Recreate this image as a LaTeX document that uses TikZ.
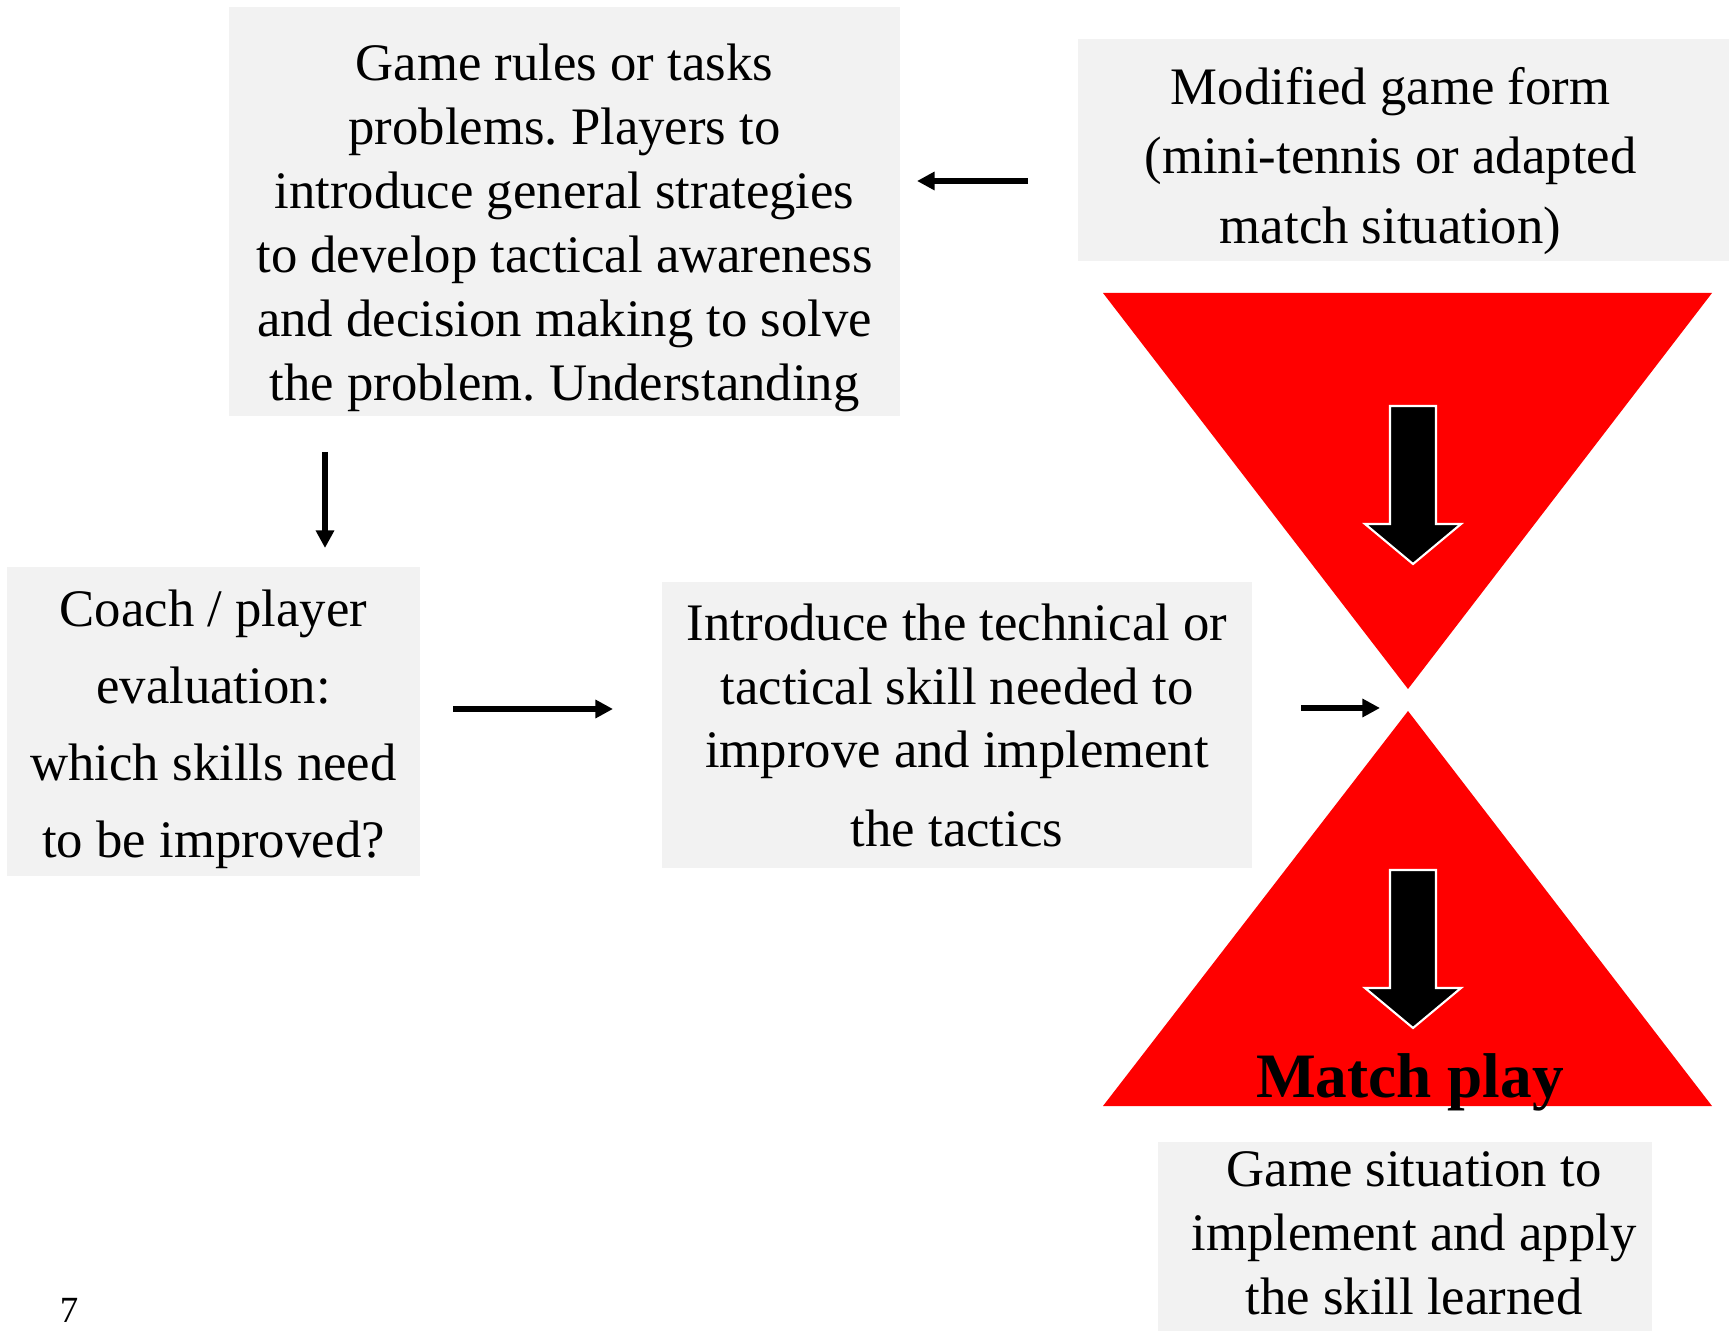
\documentclass[tikz,border=0pt]{standalone}
\usepackage{fontspec}
\setmainfont{Liberation Serif}
\usetikzlibrary{arrows.meta}
\definecolor{boxgray}{HTML}{F2F2F2}
\definecolor{trired}{HTML}{FF0000}
\frenchspacing

\begin{document}
\begin{tikzpicture}[
  box/.style={fill=boxgray, inner sep=0pt},
  boxtext/.style={align=center, inner sep=0pt, font=\fontsize{15}{18.2}\selectfont},
  link/.style={line width=1.7pt, -{Triangle[length=5pt,width=5pt]}},
  blockarrow/.style={fill=black, draw=white, line width=0.6pt}
]
\useasboundingbox (0,0) rectangle (17.29,13.33);

% boxes
\node[box, minimum width=6.71cm, minimum height=4.09cm] (rules) at (5.645,11.215) {};
\node[boxtext] (rulestext) at ([yshift=-1.6mm]rules)
  {Game rules or tasks\\problems. Players to\\introduce general strategies\\to develop tactical awareness\\and decision making to solve\\the problem. Understanding};
\node[box, minimum width=6.51cm, minimum height=2.22cm] (modified) at (14.035,11.83) {};
\node[boxtext, font=\fontsize{15}{19.9}\selectfont] (modifiedtext) at ([xshift=-1.3mm,yshift=-1.1mm]modified)
  {Modified game form\\(mini-tennis or adapted\\match situation)};
\node[box, minimum width=4.13cm, minimum height=3.09cm] (coach) at (2.135,6.115) {};
\node[boxtext, font=\fontsize{15}{21.9}\selectfont] (coachtext) at ([yshift=-0.8mm]coach)
  {Coach / player\\evaluation:\\which skills need\\to be improved?};
\node[box, minimum width=5.90cm, minimum height=2.86cm] (skill) at (9.57,6.08) {};
\node[boxtext] (skilltext) at (skill)
  {Introduce the technical or\\tactical skill needed to\\improve and implement\\[4pt]the tactics};
\node[box, minimum width=4.94cm, minimum height=1.89cm] (situation) at (14.05,0.965) {};
\node[boxtext] (situationtext) at ([xshift=0.9mm,yshift=0.3mm]situation)
  {Game situation to\\implement and apply\\the skill learned};

% hourglass
\fill[trired] (11.03,10.40) -- (17.12,10.40) -- (14.08,6.44) -- cycle;
\fill[trired] (14.08,6.22) -- (17.12,2.27) -- (11.03,2.27) -- cycle;
\foreach \ytop in {9.27,4.63}
  \filldraw[blockarrow] (13.90,\ytop) -- ++(0.46,0) -- ++(0,-1.18) -- ++(0.25,0)
    -- ++(-0.48,-0.40) -- ++(-0.48,0.40) -- ++(0.25,0) -- cycle;
\node[font=\bfseries\fontsize{18}{20}\selectfont, anchor=base] (match) at (14.10,2.36) {Match play};

% connectors
\coordinate (modout) at (10.28,11.52);
\coordinate (rulesin) at (9.17,11.52);
\coordinate (rulesout) at (3.25,8.81);
\coordinate (coachin) at (3.25,7.85);
\coordinate (coachout) at (4.53,6.24);
\coordinate (skillin) at (6.13,6.24);
\coordinate (skillout) at (13.01,6.25);
\coordinate (waist) at (13.80,6.25);
\draw[link] (modout) -- (rulesin);
\draw[link] (rulesout) -- (coachin);
\draw[link] (coachout) -- (skillin);
\draw[link] (skillout) -- (waist);

\node[font=\fontsize{10.5}{12}\selectfont] (page) at (0.69,0.23) {7};
\end{tikzpicture}
\end{document}
